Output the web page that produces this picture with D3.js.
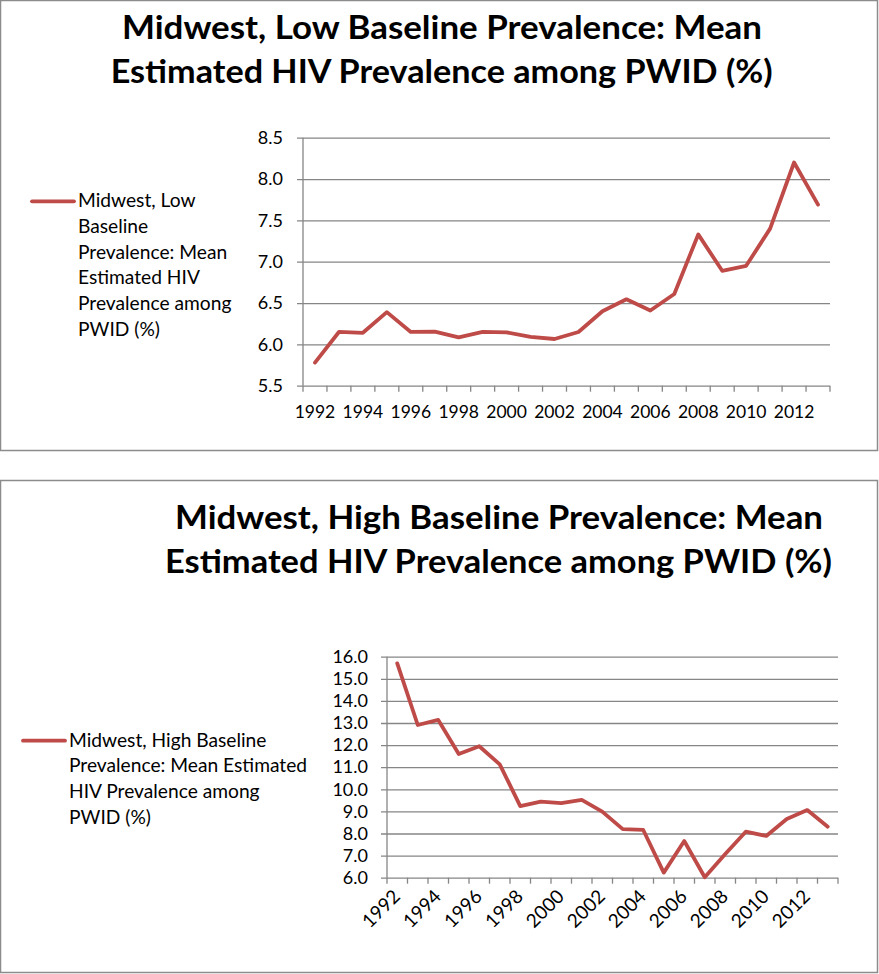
<!DOCTYPE html>
<html>
<head>
<meta charset="utf-8">
<script src="https://cdn.jsdelivr.net/npm/d3@7"></script>
<style>
  html, body { margin: 0; padding: 0; background: #fff; }
  svg { display: block; }
  text { font-family: Lato, "Open Sans", sans-serif; fill: #000; }
</style>
</head>
<body>
<svg id="chart" width="879" height="974"></svg>
<script>
// ---------- data ----------
const years = [1992,1993,1994,1995,1996,1997,1998,1999,2000,2001,2002,2003,2004,2005,2006,2007,2008,2009,2010,2011,2012,2013];
const yearTickLabels = [1992,1994,1996,1998,2000,2002,2004,2006,2008,2010,2012];

const lowValues = [5.78,6.15,6.14,6.39,6.15,6.155,6.085,6.15,6.145,6.09,6.065,6.15,6.40,6.545,6.41,6.61,7.33,6.89,6.95,7.40,8.20,7.69];
const lowYTicks = [5.5,6.0,6.5,7.0,7.5,8.0,8.5];
const lowTitle = ["Midwest, Low Baseline Prevalence: Mean", "Estimated HIV Prevalence among PWID (%)"];
const lowLegend = ["Midwest, Low", "Baseline", "Prevalence: Mean", "Estimated HIV", "Prevalence among", "PWID (%)"];

const highValues = [15.70,12.91,13.14,11.60,11.95,11.13,9.24,9.44,9.37,9.52,8.99,8.20,8.16,6.23,7.66,6.02,7.07,8.08,7.89,8.66,9.06,8.31];
const highYTicks = [6,7,8,9,10,11,12,13,14,15,16];
const highTitle = ["Midwest, High Baseline Prevalence: Mean", "Estimated HIV Prevalence among PWID (%)"];
const highLegend = ["Midwest, High Baseline", "Prevalence: Mean Estimated", "HIV Prevalence among", "PWID (%)"];

// ---------- styles ----------
const LINE_COLOR = "#BE4B48";
const GRID_COLOR = "#868686";
const BORDER_COLOR = "#8C8C8C";
const XLABEL_SIZE = 17.5;
const XLABEL_ROT_SIZE = 19;
const YLABEL_SIZE = 18;
const LEGEND_SIZE = 19.2;

const svg = d3.select("#chart");

function drawChart(cfg) {
  const g = svg.append("g");
  // outer box
  g.append("rect")
    .attr("x", cfg.box[0] + 0.5).attr("y", cfg.box[1] + 0.5)
    .attr("width", cfg.box[2] - cfg.box[0]).attr("height", cfg.box[3] - cfg.box[1])
    .attr("fill", "#fff").attr("stroke", BORDER_COLOR).attr("stroke-width", 1.5);

  // title
  cfg.title.forEach((t, i) => {
    g.append("text")
      .attr("x", cfg.titleX[i]).attr("y", cfg.titleY[i])
      .attr("font-size", 31.5).attr("font-weight", "bold")
      .attr("textLength", cfg.titleLen[i]).attr("lengthAdjust", "spacingAndGlyphs")
      .text(t);
  });

  const x = d3.scaleBand().domain(cfg.years).range([cfg.plot.x0, cfg.plot.x1]).paddingInner(0).paddingOuter(0);
  const y = d3.scaleLinear().domain(cfg.yDomain).range([cfg.plot.y0, cfg.plot.y1]);

  // gridlines + y labels
  const yAxis = d3.axisLeft(y).tickValues(cfg.yTicks).tickFormat(d3.format(".1f"))
    .tickSize(-(cfg.plot.x1 - cfg.plot.x0)).tickSizeOuter(0).tickPadding(cfg.yPad);
  const ya = g.append("g").attr("transform", `translate(${cfg.plot.x0},0)`).call(yAxis);
  ya.select(".domain").remove();
  ya.selectAll(".tick line").attr("x1", -6).attr("stroke", GRID_COLOR).attr("stroke-width", 1.3);
  ya.selectAll(".tick text").attr("font-size", YLABEL_SIZE).attr("font-family", "Lato, sans-serif").attr("fill", "#000");

  // y axis vertical line
  g.append("line")
    .attr("x1", cfg.plot.x0).attr("x2", cfg.plot.x0)
    .attr("y1", y(cfg.yDomain[0])).attr("y2", y(cfg.yDomain[1]))
    .attr("stroke", GRID_COLOR).attr("stroke-width", 1.3);

  // x ticks at category boundaries
  const bounds = cfg.years.map(d => x(d)).concat([x(cfg.years[cfg.years.length - 1]) + x.bandwidth()]);
  g.selectAll(null).data(bounds).enter().append("line")
    .attr("x1", d => d).attr("x2", d => d)
    .attr("y1", y(cfg.yDomain[0])).attr("y2", y(cfg.yDomain[0]) + 6)
    .attr("stroke", GRID_COLOR).attr("stroke-width", 1.3);

  // x labels
  const cx = d => x(d) + x.bandwidth() / 2;
  if (cfg.rotate) {
    g.selectAll(null).data(cfg.xLabels).enter().append("text")
      .attr("font-size", XLABEL_ROT_SIZE).attr("text-anchor", "end")
      .attr("transform", d => `translate(${cx(d) + 4},${y(cfg.yDomain[0]) + 20}) rotate(-45)`)
      .text(d => d);
  } else {
    g.selectAll(null).data(cfg.xLabels).enter().append("text")
      .attr("font-size", XLABEL_SIZE).attr("text-anchor", "middle")
      .attr("x", d => cx(d)).attr("y", y(cfg.yDomain[0]) + 32)
      .text(d => d);
  }

  // line
  const line = d3.line().x((d, i) => cx(cfg.years[i])).y(d => y(d));
  g.append("path").datum(cfg.values)
    .attr("d", line).attr("fill", "none")
    .attr("stroke", LINE_COLOR).attr("stroke-width", 3.8)
    .attr("stroke-linejoin", "round").attr("stroke-linecap", "round");

  // legend
  g.append("line")
    .attr("x1", cfg.legend.x - 46).attr("x2", cfg.legend.x - 4)
    .attr("y1", cfg.legend.y - 6).attr("y2", cfg.legend.y - 6)
    .attr("stroke", LINE_COLOR).attr("stroke-width", 3.8).attr("stroke-linecap", "round");
  g.selectAll(null).data(cfg.legendLines).enter().append("text")
    .attr("x", cfg.legend.x).attr("y", (d, i) => cfg.legend.y + i * 25.7)
    .attr("font-size", LEGEND_SIZE).text(d => d);
}

drawChart({
  box: [0, 0, 877, 450],
  title: lowTitle, titleX: [122, 110.7], titleY: [39.3, 83.3], titleLen: [640, 662],
  years: years, values: lowValues, yTicks: lowYTicks, yDomain: [5.5, 8.5],
  plot: { x0: 303, x1: 830, y0: 385.7, y1: 137.7 },
  yPad: 20, xLabels: yearTickLabels, rotate: false,
  legend: { x: 78, y: 207.3 }, legendLines: lowLegend
});

drawChart({
  box: [0, 480, 877, 972],
  title: highTitle, titleX: [175, 165], titleY: [529.3, 573.3], titleLen: [648, 667],
  years: years, values: highValues, yTicks: highYTicks, yDomain: [6, 16],
  plot: { x0: 387, x1: 838, y0: 877.7, y1: 656.7 },
  yPad: 19, xLabels: yearTickLabels, rotate: true,
  legend: { x: 69, y: 746.7 }, legendLines: highLegend
});
</script>
</body>
</html>
